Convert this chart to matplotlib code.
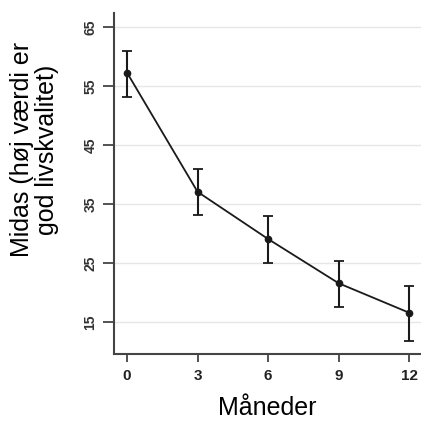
import matplotlib
matplotlib.use("Agg")
import matplotlib.pyplot as plt

# Data
maaneder = [0, 3, 6, 9, 12]
midas = [57.3, 37.1, 29.1, 21.6, 16.6]
ci_lav = [53.2, 33.1, 25.1, 17.6, 11.8]
ci_hoj = [61.0, 41.0, 33.0, 25.4, 21.1]
y_ticks = [15, 25, 35, 45, 55, 65]
x_ticks = [0, 3, 6, 9, 12]

plt.rcParams['font.family'] = ['Liberation Sans', 'DejaVu Sans']

fig = plt.figure(figsize=(4.21, 4.22), dpi=100)
ax = fig.add_axes([0.271, 0.161, 0.729, 0.808])

err_lo = [m - lo for m, lo in zip(midas, ci_lav)]
err_hi = [hi - m for m, hi in zip(midas, ci_hoj)]

ax.errorbar(maaneder, midas, yerr=[err_lo, err_hi], fmt='o-', color='#1a1a1a',
            ms=4.5, lw=1.3, elinewidth=1.5, capsize=3.5, capthick=1.3, zorder=3)

ax.set_xlim(-0.55, 12.5)
ax.set_ylim(9.6, 67.4)
ax.set_yticks(y_ticks)
ax.set_xticks(x_ticks)
ax.yaxis.grid(True, color='#e6e6e6', lw=1.0)
ax.set_axisbelow(True)

for s in ['top', 'right']:
    ax.spines[s].set_visible(False)
for s in ['left', 'bottom']:
    ax.spines[s].set_color('#444444')
    ax.spines[s].set_linewidth(1.5)

ax.set_yticklabels([str(t) for t in y_ticks], rotation=90, va='center',
                   fontweight='bold', fontsize=10, color='#333333')
ax.set_xticklabels([str(t) for t in x_ticks], fontweight='bold', fontsize=11,
                   color='#222222')
ax.tick_params(axis='y', length=8, width=1.3, color='#444444', pad=4)
ax.tick_params(axis='x', length=6, width=1.3, color='#444444', pad=5)

ax.set_xlabel('Måneder', fontsize=18, labelpad=9)
fig.text(0.083, 0.645, 'Midas (høj værdi er\ngod livskvalitet)', fontsize=18,
         rotation=90, ha='center', va='center', multialignment='center',
         linespacing=1.05)

fig.savefig('out.png', dpi=100)
